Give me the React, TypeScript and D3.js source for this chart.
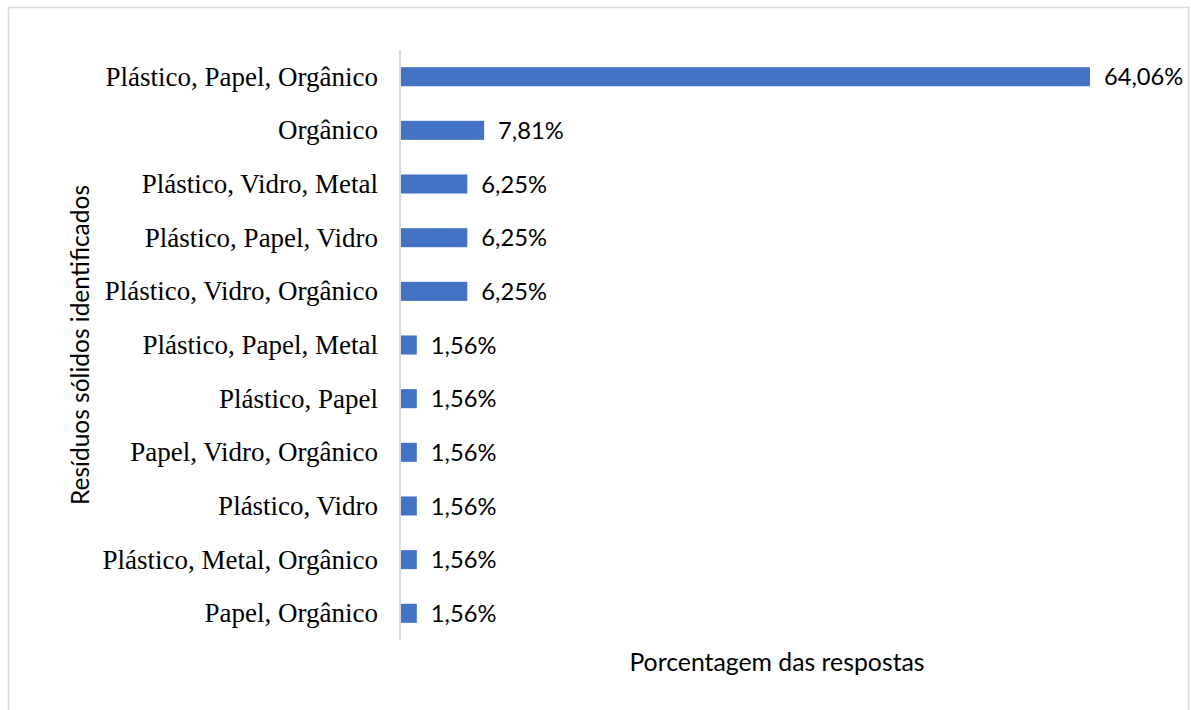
import React from 'react'
import * as d3 from 'd3'

const categories = [
  'Plástico, Papel, Orgânico',
  'Orgânico',
  'Plástico, Vidro, Metal',
  'Plástico, Papel, Vidro',
  'Plástico, Vidro, Orgânico',
  'Plástico, Papel, Metal',
  'Plástico, Papel',
  'Papel, Vidro, Orgânico',
  'Plástico, Vidro',
  'Plástico, Metal, Orgânico',
  'Papel, Orgânico',
]
const values = [64.06, 7.81, 6.25, 6.25, 6.25, 1.56, 1.56, 1.56, 1.56, 1.56, 1.56]
const labels = ['64,06%', '7,81%', '6,25%', '6,25%', '6,25%', '1,56%', '1,56%', '1,56%', '1,56%', '1,56%', '1,56%']

const W = 1191
const H = 710
const left = 400
const top = 50
const bottom = 640
const sans = "Lato, 'Open Sans', sans-serif"

export default function App() {
  const x = d3.scaleLinear().domain([0, d3.max(values)!]).range([left, 1090])
  const y = d3.scaleBand().domain(categories).range([top, bottom]).paddingInner(0.645).paddingOuter(0.32)

  return (
    <svg width={W} height={H} style={{ position: 'absolute', left: 0, top: 0 }}>
      <rect x={0} y={0} width={W} height={H} fill="#fff" />
      <rect x={8.5} y={7.5} width={1180} height={730} fill="none" stroke="#d9d9d9" strokeWidth={1.5} />
      {categories.map((c, i) => (
        <g key={c}>
          <rect x={x(0)} y={y(c)} width={x(values[i]) - x(0)} height={y.bandwidth()} fill="#4472c4" />
          <text x={x(values[i]) + 14} y={y(c)! + y.bandwidth() / 2} dy="0.36em"
            fontFamily={sans} fontSize={23.7} fill="#000">{labels[i]}</text>
          <text x={left - 22} y={y(c)! + y.bandwidth() / 2} dy="0.33em" textAnchor="end"
            fontFamily="'Liberation Serif', 'Times New Roman', serif" fontSize={27} fill="#000">{c}</text>
        </g>
      ))}
      <line x1={left} x2={left} y1={top} y2={bottom} stroke="#d9d9d9" strokeWidth={2} />
      <text x={777} y={662} dy="0.35em" textAnchor="middle"
        fontFamily={sans} fontSize={24.8} fill="#000">Porcentagem das respostas</text>
      <text transform={`translate(80,345) rotate(-90)`} textAnchor="middle" dy="0.35em"
        fontFamily={sans} fontSize={24.5} fill="#000">Resíduos sólidos identificados</text>
    </svg>
  )
}
